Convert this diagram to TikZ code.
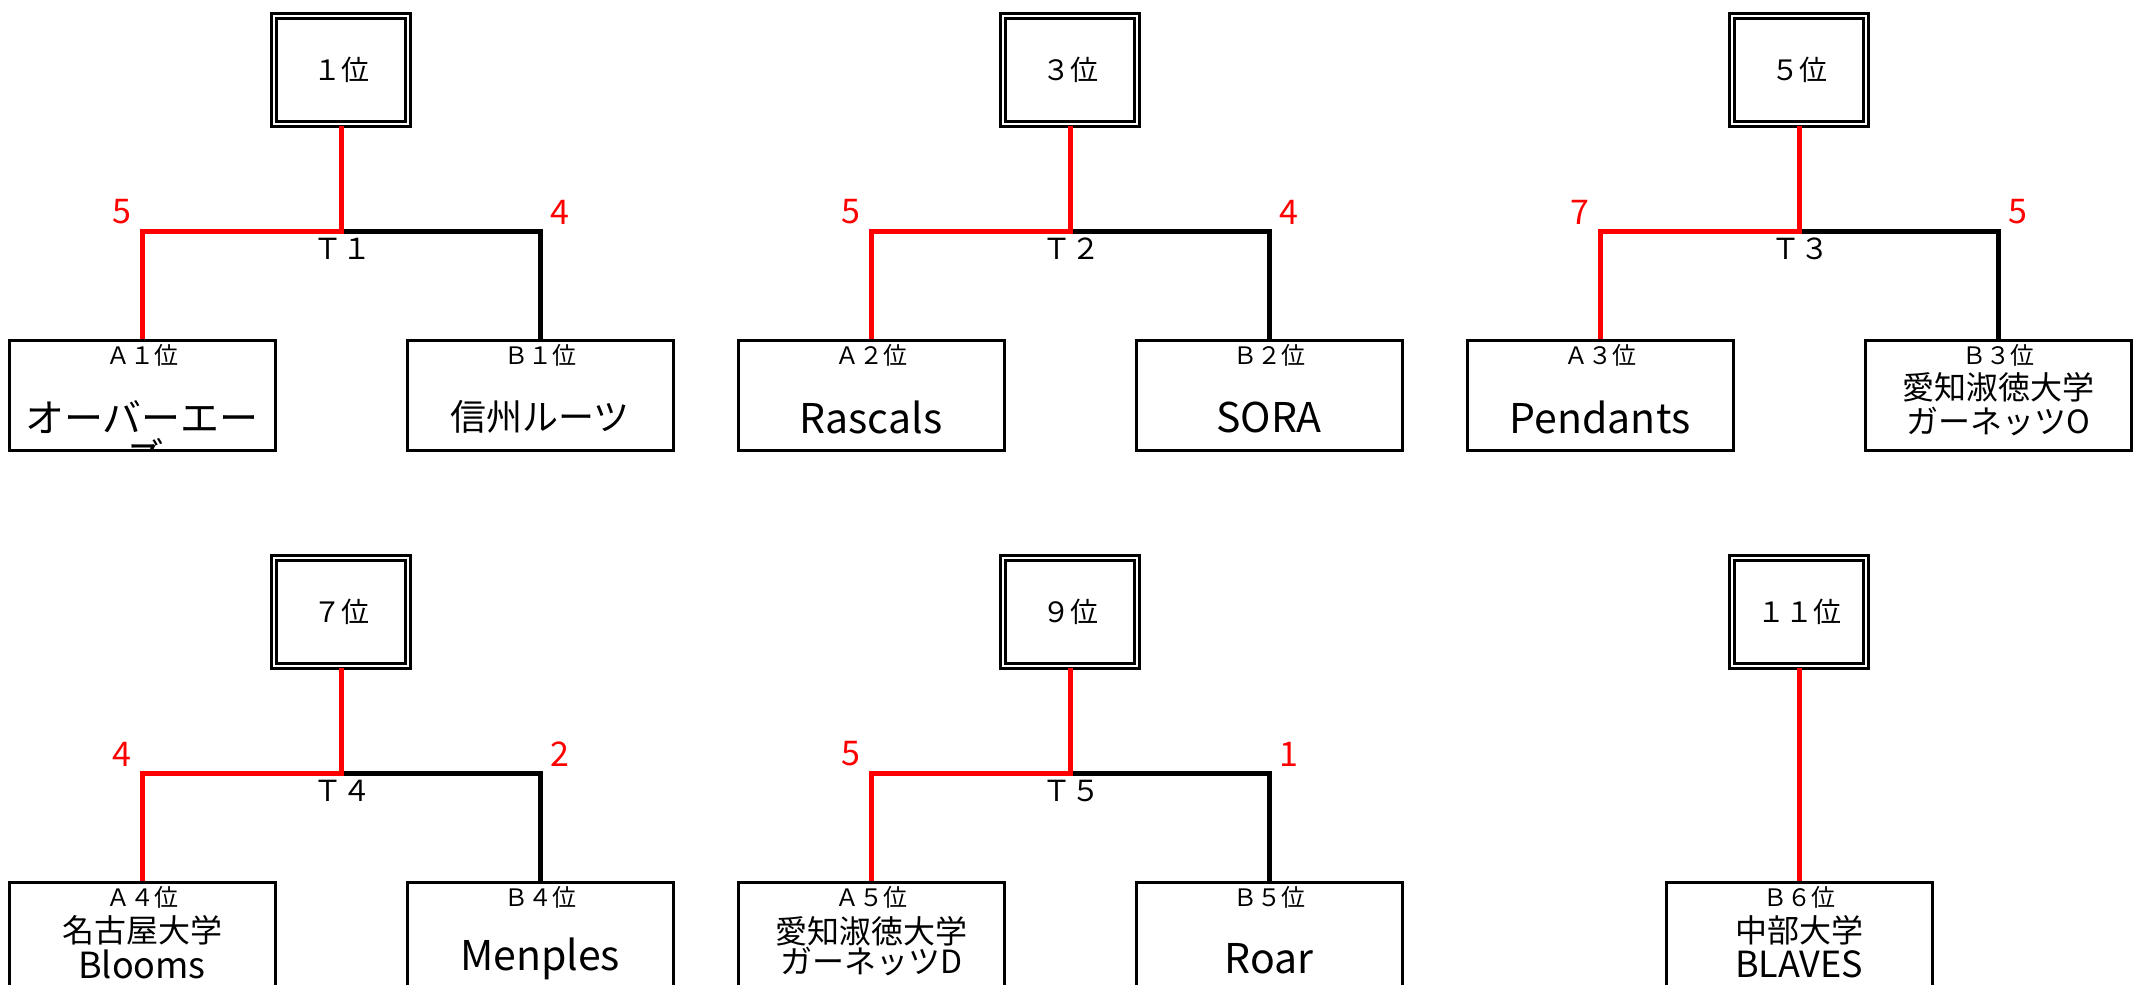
\documentclass[tikz,border=0pt]{standalone}
\usepackage{fontspec}
\setmainfont{Noto Sans CJK JP}
\begin{document}
\begin{tikzpicture}[x=0.5pt,y=-0.5pt,
  teambox/.style={draw, line width=1.5pt, minimum width=133pt, minimum height=55pt, inner sep=0pt},
  rankbox/.style={draw, line width=1.5pt, double, double distance=1pt, minimum width=67pt, minimum height=54pt, inner sep=0pt, font=\fontsize{14pt}{16pt}\selectfont},
  winline/.style={draw=red, line width=2.5pt, line join=miter},
  loseline/.style={draw=black, line width=2.5pt, line join=miter},
  score/.style={text=red, font=\fontsize{17pt}{19pt}\selectfont, inner sep=0pt},
  tlabel/.style={font=\fontsize{14.5pt}{16pt}\selectfont, inner sep=0pt},
  seedlabel/.style={font=\fontsize{12pt}{14pt}\selectfont, inner sep=0pt},
  bigname/.style={font=\fontsize{20.5pt}{22pt}\selectfont, inner sep=0pt},
  jpname/.style={font=\fontsize{18pt}{20pt}\selectfont, inner sep=0pt},
  twoname/.style={font=\fontsize{16pt}{18pt}\selectfont, inner sep=0pt},
  twolatin/.style={font=\fontsize{18pt}{20pt}\selectfont, inner sep=0pt},
]
\useasboundingbox (0,0) rectangle (2142,985);
\clip (0,0) rectangle (2142,985);

% ---------------- Group T1 (cx = 341) ----------------
\node[rankbox] (r1) at (341,70) {１位};
\node[teambox] (a1) at (142,395) {};
\node[teambox] (b1) at (540,395) {};
\coordinate (j1) at (341,231);
\draw[loseline] (j1) -| (b1.north);
\draw[winline] (r1.south) -- (j1) -| (a1.north);
\node[score] (s1a) at (122,212) {5};
\node[score] (s1b) at (560,212) {4};
\node[tlabel] (t1) at (342,249) {Ｔ１};
\node[seedlabel] (a1l) at (142,355) {Ａ１位};
\node[seedlabel] (b1l) at (540,355) {Ｂ１位};
\begin{scope}
  \clip (11,342) rectangle (273,448);
  \node[jpname, font=\fontsize{19.5pt}{21pt}\selectfont] (a1n) at (142,417) {オーバーエー};
  \node[jpname, font=\fontsize{19.5pt}{21pt}\selectfont] (a1m) at (145,456) {ズ};
\end{scope}
\node[jpname] (b1n) at (540,417) {信州ルーツ};

% ---------------- Group T2 (cx = 1070) ----------------
\node[rankbox] (r2) at (1070,70) {３位};
\node[teambox] (a2) at (871,395) {};
\node[teambox] (b2) at (1269,395) {};
\coordinate (j2) at (1070,231);
\draw[loseline] (j2) -| (b2.north);
\draw[winline] (r2.south) -- (j2) -| (a2.north);
\node[score] (s2a) at (851,212) {5};
\node[score] (s2b) at (1289,212) {4};
\node[tlabel] (t2) at (1071,249) {Ｔ２};
\node[seedlabel] (a2l) at (871,355) {Ａ２位};
\node[seedlabel] (b2l) at (1269,355) {Ｂ２位};
\node[bigname] (a2n) at (871,417) {Rascals};
\node[bigname] (b2n) at (1269,417) {SORA};

% ---------------- Group T3 (cx = 1799) ----------------
\node[rankbox] (r3) at (1799,70) {５位};
\node[teambox] (a3) at (1600,395) {};
\node[teambox] (b3) at (1998,395) {};
\coordinate (j3) at (1799,231);
\draw[loseline] (j3) -| (b3.north);
\draw[winline] (r3.south) -- (j3) -| (a3.north);
\node[score] (s3a) at (1580,212) {7};
\node[score] (s3b) at (2018,212) {5};
\node[tlabel] (t3) at (1800,249) {Ｔ３};
\node[seedlabel] (a3l) at (1600,355) {Ａ３位};
\node[seedlabel] (b3l) at (1998,355) {Ｂ３位};
\node[bigname] (a3n) at (1600,417) {Pendants};
\node[twoname] (b3n) at (1998,387) {愛知淑徳大学};
\node[twoname] (b3m) at (1998,422) {ガーネッツO};

% ---------------- Group T4 (cx = 341, lower row) ----------------
\node[rankbox] (r4) at (341,612) {７位};
\node[teambox] (a4) at (142,937) {};
\node[teambox] (b4) at (540,937) {};
\coordinate (j4) at (341,773);
\draw[loseline] (j4) -| (b4.north);
\draw[winline] (r4.south) -- (j4) -| (a4.north);
\node[score] (s4a) at (122,754) {4};
\node[score] (s4b) at (560,754) {2};
\node[tlabel] (t4) at (342,791) {Ｔ４};
\node[seedlabel] (a4l) at (142,897) {Ａ４位};
\node[seedlabel] (b4l) at (540,897) {Ｂ４位};
\node[twoname] (a4n) at (142,930) {名古屋大学};
\node[twolatin] (a4m) at (142,964) {Blooms};
\node[bigname] (b4n) at (540,959) {Menples};

% ---------------- Group T5 (cx = 1070, lower row) ----------------
\node[rankbox] (r5) at (1070,612) {９位};
\node[teambox] (a5) at (871,937) {};
\node[teambox] (b5) at (1269,937) {};
\coordinate (j5) at (1070,773);
\draw[loseline] (j5) -| (b5.north);
\draw[winline] (r5.south) -- (j5) -| (a5.north);
\node[score] (s5a) at (851,754) {5};
\node[score] (s5b) at (1289,754) {1};
\node[tlabel] (t5) at (1071,791) {Ｔ５};
\node[seedlabel] (a5l) at (871,897) {Ａ５位};
\node[seedlabel] (b5l) at (1269,897) {Ｂ５位};
\node[twoname] (a5n) at (871,931) {愛知淑徳大学};
\node[twoname] (a5m) at (871,962) {ガーネッツD};
\node[bigname] (b5n) at (1269,959) {Roar};

% ---------------- 11th place (cx = 1799, lower row) ----------------
\node[rankbox] (r6) at (1799,612) {１１位};
\node[teambox] (b6) at (1799,937) {};
\draw[winline] (r6.south) -- (b6.north);
\node[seedlabel] (b6l) at (1799,897) {Ｂ６位};
\node[twoname] (b6n) at (1799,930) {中部大学};
\node[twolatin] (b6m) at (1799,964) {BLAVES};
\end{tikzpicture}
\end{document}
